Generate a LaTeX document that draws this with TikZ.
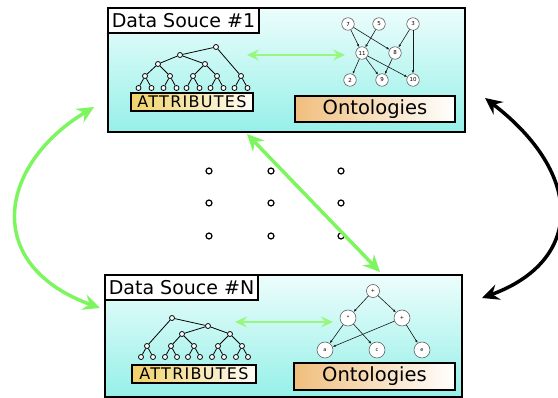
\documentclass[tikz,border=0pt]{standalone}
\usepackage{fontspec}
\setmainfont{DejaVu Sans}
\usetikzlibrary{arrows.meta}
\usetikzlibrary{positioning}

\definecolor{srcdark}{RGB}{150,240,232}
\definecolor{srclight}{RGB}{236,253,252}
\definecolor{linkgreen}{RGB}{125,245,95}
\definecolor{attrgold}{RGB}{240,210,105}
\definecolor{ontotan}{RGB}{240,190,125}

\tikzset{
  source/.style={draw, line width=2pt, top color=srclight, bottom color=srcdark, minimum width=357pt, inner sep=0pt},
  srctitle/.style={draw, line width=1.6pt, fill=white, anchor=north west, inner xsep=4pt, minimum height=25pt, font=\fontsize{19}{21}\selectfont},
  attrbox/.style={draw, line width=1.3pt, left color=attrgold, right color=attrgold!6, minimum width=122pt, minimum height=18pt, inner sep=0pt, font=\fontsize{16}{18}\selectfont\addfontfeature{LetterSpace=8}},
  ontobox/.style={draw, line width=2pt, left color=ontotan, right color=white, minimum width=160pt, minimum height=26pt, inner sep=0pt, font=\fontsize{19.5}{21}\selectfont},
  tn/.style={circle, draw, fill=white, line width=0.8pt, inner sep=0pt, minimum size=5pt},
  gn/.style={circle, draw=black!70, fill=white, line width=0.5pt, inner sep=0pt, minimum size=12.5pt, font=\fontsize{5.5}{6}\selectfont},
  en/.style={circle, draw=black!70, fill=white, line width=0.5pt, inner sep=0pt, minimum size=16pt, font=\fontsize{5}{5}\selectfont},
  gapdot/.style={circle, draw, line width=1.2pt, inner sep=0pt, minimum size=6pt},
  link/.style={<->, line width=3.5pt, draw=linkgreen, >={Stealth[length=17pt,width=16pt,inset=6pt]}},
  innerlink/.style={<->, line width=2.5pt, draw=linkgreen!80!white, >={Stealth[length=12pt,width=11pt,inset=4.5pt]}},
  blacklink/.style={<->, line width=3.5pt, draw=black, >={Stealth[length=17pt,width=16pt,inset=6pt]}},
  gedge/.style={-{Latex[length=3pt,width=2.5pt]}, line width=0.6pt, draw=black!90}
}

\begin{document}
\begin{tikzpicture}[x=1pt,y=-1pt]
  \useasboundingbox (0,0) rectangle (558,398);

  % the two sources
  \node[source, minimum height=124pt] (ds1) at (286.5,70) {};
  \node[source, minimum height=122pt] (dsN) at (283.5,336) {};
  \node[srctitle] (t1) at (ds1.north west) {Data Souce \#1};
  \node[srctitle] (tN) at (dsN.north west) {Data Souce \#N};

  \node[attrbox] (at1) at (192,102) {ATTRIBUTES};
  \node[attrbox, minimum width=124pt] (atN) at (194,374) {ATTRIBUTES};
  \node[ontobox] (on1) at (375,109) {Ontologies};
  \node[ontobox, minimum width=161pt, minimum height=27pt] (onN) at (374.5,376.5) {Ontologies};

  % attribute tree, source 1
  \foreach \n/\x/\y in {r/216/47, a/180/55, b/158/64, c/205/64}
    \node[tn] (u\n) at (\x,\y) {};
  \foreach \i/\x in {1/145,2/170,3/193,4/217,5/241} {
    \node[tn] (u\i) at (\x,76) {};
    \node[tn] (u\i l) at (\x-6.5,88) {};
    \node[tn] (u\i r) at (\x+6.5,88) {};
    \draw[line width=0.8pt] (u\i l) -- (u\i) -- (u\i r);
  }
  \draw[line width=0.8pt] (ua) -- (ur) -- (u5)
    (u1) -- (ub) -- (ua) -- (uc) -- (u4) (ub) -- (u2) (uc) -- (u3);

  % attribute tree, source N
  \foreach \n/\x/\y in {r/172/318, m/208/326, a/182/334, b/230/334}
    \node[tn] (v\n) at (\x,\y) {};
  \foreach \i/\x in {1/147,2/171,3/194,4/218,5/242} {
    \node[tn] (v\i) at (\x,346) {};
    \node[tn] (v\i l) at (\x-6,357) {};
    \node[tn] (v\i r) at (\x+6,357) {};
    \draw[line width=0.8pt] (v\i l) -- (v\i) -- (v\i r);
  }
  \draw[line width=0.8pt] (v1) -- (vr) -- (vm) -- (va) -- (v2)
    (va) -- (v3) (vm) -- (vb) -- (v4) (vb) -- (v5);

  % ontology graph, source 1
  \foreach \n/\x/\y in {7/348/24, 5/379/24, 3/413/24, 11/362/53, 8/395/53, 2/350/80, 9/382/80, 10/413/80}
    \node[gn] (g\n) at (\x,\y) {\n};
  \foreach \s/\t in {7/11, 7/8, 5/11, 3/8, 3/10, 11/2, 11/9, 11/10, 8/9}
    \draw[gedge] (g\s) -- (g\t);

  % ontology graph, source N
  \node[en, minimum size=13pt] (ep) at (373,291) {+};
  \node[en] (em) at (348,318) {*};
  \node[en] (eq) at (402,318) {+};
  \node[en] (ea) at (325,350) {a};
  \node[en] (ec) at (377,350) {c};
  \node[en] (ee) at (422,350) {e};
  \foreach \s/\t in {ep/em, ep/eq, em/ea, em/ec, eq/ea, eq/ee}
    \draw[gedge] (\s) -- (\t);

  % gap dots
  \foreach \x in {209,271,341}
    \foreach \y in {171,203,236}
      \node[gapdot] (d\x-\y) at (\x,\y) {};

  % links
  \coordinate (a1) at (247,55);
  \coordinate (o1) at (345,55);
  \coordinate (aN) at (235,322);
  \coordinate (oN) at (333,322);
  \draw[innerlink] (a1) -- (o1);
  \draw[innerlink] (aN) -- (oN);

  \coordinate (l1) at (94,107);
  \coordinate (lN) at (100,308);
  \coordinate (m1) at (247,134);
  \coordinate (mN) at (380,272);
  \coordinate (r1) at (485,98);
  \coordinate (rN) at (482,298);
  \draw[link] (l1) .. controls (-2,165) and (-18,265) .. (lN);
  \draw[link] (m1) -- (mN);
  \draw[blacklink] (r1) .. controls (585,175) and (583,261) .. (rN);
\end{tikzpicture}
\end{document}
